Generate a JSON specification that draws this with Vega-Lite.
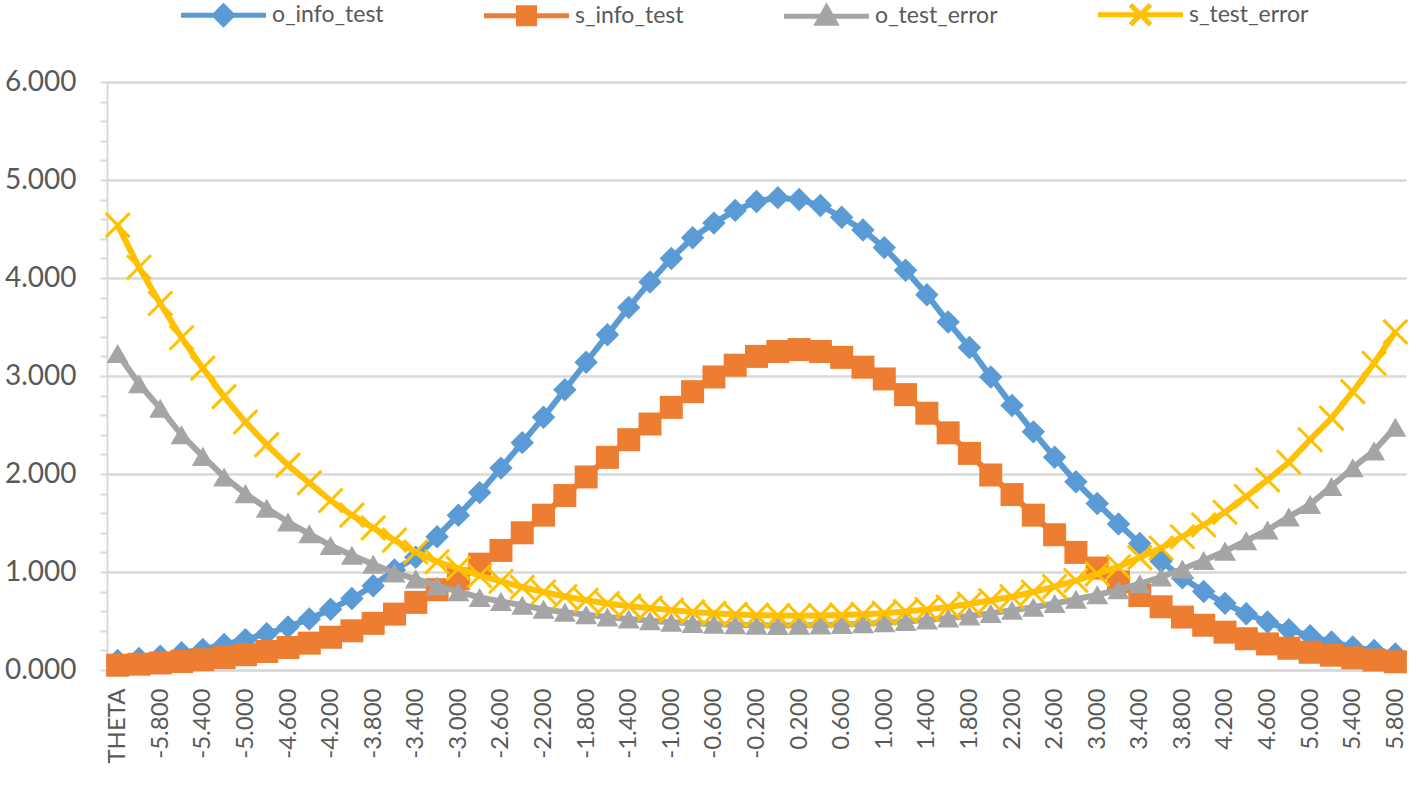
{
"$schema":"https://vega.github.io/schema/vega-lite/v6.json",
"width":1299,"height":588,
"autosize":{"type":"none"},
"padding":{"left":107,"top":82,"right":11,"bottom":129},
"background":"white",
"config":{"view":{"stroke":null},"font":"Lato"},
"data":{"values":[
{"t":"THETA","o_info_test":0.096,"s_info_test":0.0485,"o_test_error":3.23,"s_test_error":4.54},
{"t":"-6.000","o_info_test":0.117,"s_info_test":0.059,"o_test_error":2.92,"s_test_error":4.11},
{"t":"-5.800","o_info_test":0.14,"s_info_test":0.0715,"o_test_error":2.67,"s_test_error":3.74},
{"t":"-5.600","o_info_test":0.175,"s_info_test":0.087,"o_test_error":2.4,"s_test_error":3.39},
{"t":"-5.400","o_info_test":0.21,"s_info_test":0.105,"o_test_error":2.18,"s_test_error":3.08},
{"t":"-5.200","o_info_test":0.26,"s_info_test":0.128,"o_test_error":1.97,"s_test_error":2.79},
{"t":"-5.000","o_info_test":0.31,"s_info_test":0.156,"o_test_error":1.8,"s_test_error":2.53},
{"t":"-4.800","o_info_test":0.37,"s_info_test":0.189,"o_test_error":1.65,"s_test_error":2.3},
{"t":"-4.600","o_info_test":0.44,"s_info_test":0.229,"o_test_error":1.51,"s_test_error":2.09},
{"t":"-4.400","o_info_test":0.52,"s_info_test":0.274,"o_test_error":1.39,"s_test_error":1.91},
{"t":"-4.200","o_info_test":0.62,"s_info_test":0.334,"o_test_error":1.27,"s_test_error":1.73},
{"t":"-4.000","o_info_test":0.73,"s_info_test":0.4,"o_test_error":1.17,"s_test_error":1.58},
{"t":"-3.800","o_info_test":0.86,"s_info_test":0.476,"o_test_error":1.08,"s_test_error":1.45},
{"t":"-3.600","o_info_test":1.02,"s_info_test":0.57,"o_test_error":0.99,"s_test_error":1.325},
{"t":"-3.400","o_info_test":1.15,"s_info_test":0.69,"o_test_error":0.93,"s_test_error":1.204},
{"t":"-3.200","o_info_test":1.36,"s_info_test":0.82,"o_test_error":0.86,"s_test_error":1.104},
{"t":"-3.000","o_info_test":1.58,"s_info_test":0.93,"o_test_error":0.8,"s_test_error":1.037},
{"t":"-2.800","o_info_test":1.81,"s_info_test":1.08,"o_test_error":0.74,"s_test_error":0.962},
{"t":"-2.600","o_info_test":2.06,"s_info_test":1.22,"o_test_error":0.7,"s_test_error":0.905},
{"t":"-2.400","o_info_test":2.32,"s_info_test":1.4,"o_test_error":0.66,"s_test_error":0.845},
{"t":"-2.200","o_info_test":2.58,"s_info_test":1.58,"o_test_error":0.62,"s_test_error":0.796},
{"t":"-2.000","o_info_test":2.86,"s_info_test":1.78,"o_test_error":0.59,"s_test_error":0.75},
{"t":"-1.800","o_info_test":3.14,"s_info_test":1.97,"o_test_error":0.564,"s_test_error":0.712},
{"t":"-1.600","o_info_test":3.42,"s_info_test":2.17,"o_test_error":0.541,"s_test_error":0.679},
{"t":"-1.400","o_info_test":3.7,"s_info_test":2.35,"o_test_error":0.52,"s_test_error":0.652},
{"t":"-1.200","o_info_test":3.96,"s_info_test":2.51,"o_test_error":0.503,"s_test_error":0.631},
{"t":"-1.000","o_info_test":4.2,"s_info_test":2.68,"o_test_error":0.488,"s_test_error":0.611},
{"t":"-0.800","o_info_test":4.41,"s_info_test":2.84,"o_test_error":0.476,"s_test_error":0.593},
{"t":"-0.600","o_info_test":4.56,"s_info_test":2.99,"o_test_error":0.468,"s_test_error":0.578},
{"t":"-0.400","o_info_test":4.69,"s_info_test":3.11,"o_test_error":0.462,"s_test_error":0.567},
{"t":"-0.200","o_info_test":4.78,"s_info_test":3.2,"o_test_error":0.457,"s_test_error":0.559},
{"t":"0.000","o_info_test":4.82,"s_info_test":3.25,"o_test_error":0.455,"s_test_error":0.555},
{"t":"0.200","o_info_test":4.8,"s_info_test":3.27,"o_test_error":0.456,"s_test_error":0.553},
{"t":"0.400","o_info_test":4.74,"s_info_test":3.25,"o_test_error":0.459,"s_test_error":0.555},
{"t":"0.600","o_info_test":4.62,"s_info_test":3.19,"o_test_error":0.465,"s_test_error":0.56},
{"t":"0.800","o_info_test":4.49,"s_info_test":3.09,"o_test_error":0.472,"s_test_error":0.569},
{"t":"1.000","o_info_test":4.31,"s_info_test":2.97,"o_test_error":0.482,"s_test_error":0.58},
{"t":"1.200","o_info_test":4.08,"s_info_test":2.81,"o_test_error":0.495,"s_test_error":0.597},
{"t":"1.400","o_info_test":3.83,"s_info_test":2.62,"o_test_error":0.511,"s_test_error":0.618},
{"t":"1.600","o_info_test":3.55,"s_info_test":2.42,"o_test_error":0.531,"s_test_error":0.643},
{"t":"1.800","o_info_test":3.29,"s_info_test":2.21,"o_test_error":0.551,"s_test_error":0.673},
{"t":"2.000","o_info_test":2.99,"s_info_test":1.99,"o_test_error":0.578,"s_test_error":0.709},
{"t":"2.200","o_info_test":2.7,"s_info_test":1.79,"o_test_error":0.609,"s_test_error":0.747},
{"t":"2.400","o_info_test":2.43,"s_info_test":1.58,"o_test_error":0.641,"s_test_error":0.796},
{"t":"2.600","o_info_test":2.17,"s_info_test":1.38,"o_test_error":0.679,"s_test_error":0.851},
{"t":"2.800","o_info_test":1.92,"s_info_test":1.2,"o_test_error":0.722,"s_test_error":0.913},
{"t":"3.000","o_info_test":1.7,"s_info_test":1.04,"o_test_error":0.767,"s_test_error":0.981},
{"t":"3.200","o_info_test":1.49,"s_info_test":0.9,"o_test_error":0.819,"s_test_error":1.054},
{"t":"3.400","o_info_test":1.29,"s_info_test":0.76,"o_test_error":0.88,"s_test_error":1.147},
{"t":"3.600","o_info_test":1.11,"s_info_test":0.645,"o_test_error":0.949,"s_test_error":1.245},
{"t":"3.800","o_info_test":0.94,"s_info_test":0.54,"o_test_error":1.031,"s_test_error":1.36},
{"t":"4.000","o_info_test":0.8,"s_info_test":0.457,"o_test_error":1.118,"s_test_error":1.48},
{"t":"4.200","o_info_test":0.68,"s_info_test":0.386,"o_test_error":1.213,"s_test_error":1.61},
{"t":"4.400","o_info_test":0.575,"s_info_test":0.319,"o_test_error":1.319,"s_test_error":1.77},
{"t":"4.600","o_info_test":0.49,"s_info_test":0.266,"o_test_error":1.429,"s_test_error":1.94},
{"t":"4.800","o_info_test":0.41,"s_info_test":0.222,"o_test_error":1.562,"s_test_error":2.12},
{"t":"5.000","o_info_test":0.35,"s_info_test":0.181,"o_test_error":1.69,"s_test_error":2.35},
{"t":"5.200","o_info_test":0.285,"s_info_test":0.151,"o_test_error":1.873,"s_test_error":2.57},
{"t":"5.400","o_info_test":0.235,"s_info_test":0.124,"o_test_error":2.063,"s_test_error":2.84},
{"t":"5.600","o_info_test":0.2,"s_info_test":0.102,"o_test_error":2.236,"s_test_error":3.13},
{"t":"5.800","o_info_test":0.163,"s_info_test":0.084,"o_test_error":2.477,"s_test_error":3.45}
]},
"transform":[{"fold":["o_info_test","s_info_test","o_test_error","s_test_error"],"as":["series","value"]}],
"encoding":{
"x":{"field":"t","type":"ordinal","sort":null,"scale":{"type":"point","padding":0.5},
"axis":{"title":null,"values":["THETA","-5.800","-5.400","-5.000","-4.600","-4.200","-3.800","-3.400","-3.000","-2.600","-2.200","-1.800","-1.400","-1.000","-0.600","-0.200","0.200","0.600","1.000","1.400","1.800","2.200","2.600","3.000","3.400","3.800","4.200","4.600","5.000","5.400","5.800"],
"labelAngle":-90,"labelFont":"Lato","labelFontSize":24,"labelColor":"#595959","labelPadding":18,"ticks":false,"domain":true,"domainColor":"#D9D9D9","domainWidth":2.5,"grid":false,"labelOverlap":false,"labelBound":false}},
"y":{"field":"value","type":"quantitative","scale":{"domain":[0,6],"nice":false,"zero":true},
"axis":{"title":null,"values":[0,0.2,0.4,0.6,0.8,1,1.2,1.4,1.6,1.8,2,2.2,2.4,2.6,2.8,3,3.2,3.4,3.6,3.8,4,4.2,4.4,4.6,4.8,5,5.2,5.4,5.6,5.8,6],
"labelExpr":"abs(datum.value-round(datum.value))<0.001 ? format(datum.value,'.3f') : ''",
"labelFont":"Lato","labelFontSize":28,"labelColor":"#595959","labelPadding":24,"labelOverlap":false,"labelFlush":false,
"tickSize":7,"tickColor":"#D9D9D9","tickWidth":2,"domainColor":"#D9D9D9","domainWidth":2,
"grid":true,"gridColor":"#D9D9D9","gridWidth":2.5,
"gridOpacity":{"condition":{"test":"abs(datum.value-round(datum.value))<0.001","value":1},"value":0}}},
"color":{"field":"series","type":"nominal",
"scale":{"domain":["o_info_test","s_info_test","o_test_error","s_test_error"],"range":["#5B9BD5","#ED7D31","#A5A5A5","#FFC000"]},
"legend":{"title":null,"orient":"none","direction":"horizontal","legendX":70,"legendY":-79,
"labelFont":"Lato","labelFontSize":23,"labelColor":"#595959","symbolSize":100,"symbolStrokeWidth":5,"labelOffset":72,"columnPadding":90,
"encode":{"symbols":{"update":{
"shape":{"signal":"datum.value === 'o_info_test' ? 'M-1.5,0H15.5M7,-1.8L8.8,0L7,1.8L5.2,0Z' : datum.value === 's_info_test' ? 'M-1.5,0H15.5M5.4,-1.6H8.6V1.6H5.4Z' : datum.value === 'o_test_error' ? 'M-1.5,0H15.5M7,-1.8L8.8,1.4H5.2Z' : 'M-1.5,0H15.5M5,-2L9,2M5,2L9,-2'"},
"fill":{"scale":"color","field":"value"},"stroke":{"scale":"color","field":"value"},
"strokeWidth":{"value":5},"size":{"value":100},"opacity":{"value":1},"fillOpacity":{"value":1},"strokeOpacity":{"value":1}}}}}}
},
"layer":[
{"transform":[{"filter":"datum.series === 'o_info_test'"}],"layer":[
{"mark":{"type":"line","strokeWidth":6}},
{"mark":{"type":"point","shape":"diamond","filled":true,"size":550,"opacity":1}}]},
{"transform":[{"filter":"datum.series === 's_info_test'"}],"layer":[
{"mark":{"type":"line","strokeWidth":6}},
{"mark":{"type":"point","shape":"square","filled":true,"size":529,"opacity":1}}]},
{"transform":[{"filter":"datum.series === 'o_test_error'"}],"layer":[
{"mark":{"type":"line","strokeWidth":6}},
{"mark":{"type":"point","shape":"triangle-up","filled":true,"size":484,"opacity":1}}]},
{"transform":[{"filter":"datum.series === 's_test_error'"}],"layer":[
{"mark":{"type":"line","strokeWidth":6}},
{"mark":{"type":"point","shape":"M-1,-1L1,1M-1,1L1,-1","filled":false,"size":576,"strokeWidth":3,"opacity":1}}]}
]
}
